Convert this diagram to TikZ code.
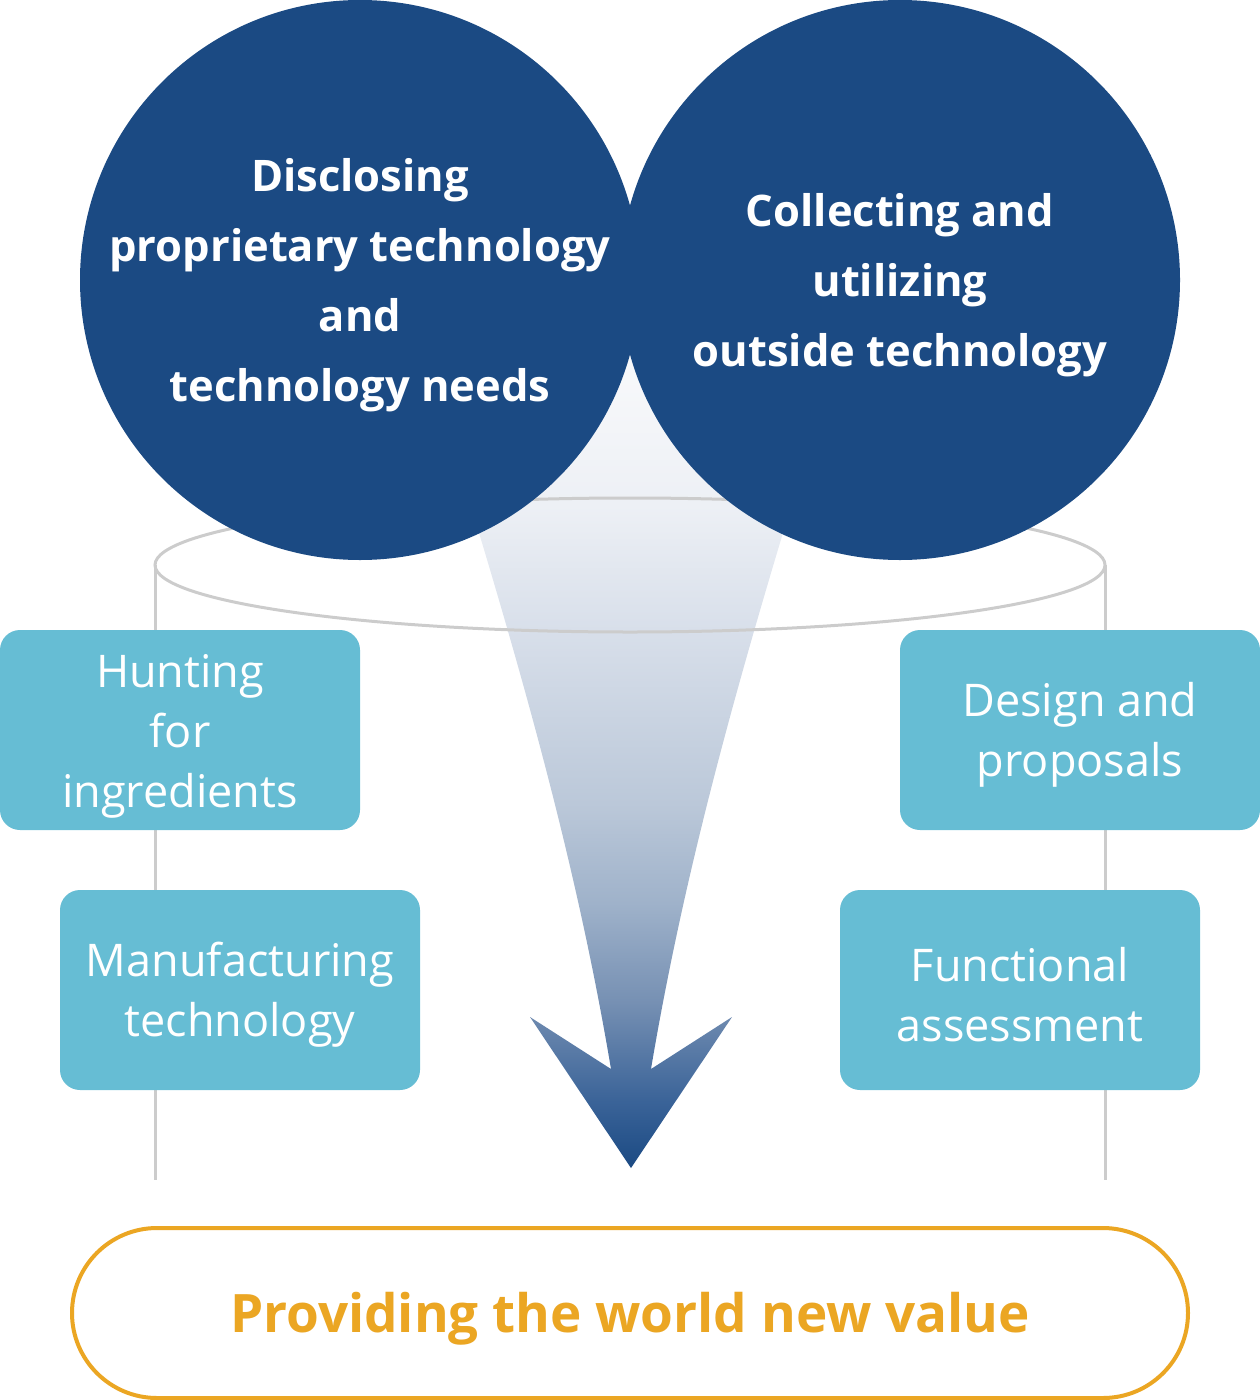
\documentclass[tikz,border=0pt]{standalone}
\usepackage{fontspec}
\setmainfont{Open Sans}
\usetikzlibrary{shapes.geometric}
\definecolor{navy}{HTML}{1B4A83}
\definecolor{teal}{HTML}{66BDD4}
\definecolor{gold}{HTML}{EBA623}
\definecolor{rule}{HTML}{CCCCCC}
\definecolor{sA}{HTML}{3A6398}
\definecolor{sB}{HTML}{7690B3}
\definecolor{sC}{HTML}{9FB2CA}
\definecolor{sD}{HTML}{BBC8D9}
\definecolor{sE}{HTML}{D8DFEA}
\definecolor{sF}{HTML}{EDF0F5}
\definecolor{sG}{HTML}{F8F9FB}
\pgfdeclareverticalshading{funnel}{100bp}{color(0bp)=(navy); color(25bp)=(navy); color(29bp)=(sA); color(35bp)=(sB); color(41bp)=(sC); color(47bp)=(sD); color(57.5bp)=(sE); color(65bp)=(sF); color(73.8bp)=(sG); color(75bp)=(white); color(100bp)=(white)}
\tikzset{
  bigcircle/.style={circle, fill=navy, minimum size=560pt, inner sep=0pt},
  circletext/.style={text=white, font=\fontsize{43.5}{70}\selectfont\bfseries, align=center, inner sep=0pt},
  tealbox/.style={rectangle, rounded corners=20pt, fill=teal, minimum width=360pt, minimum height=200pt, inner sep=0pt},
  boxtext/.style={text=white, font=\fontsize{45}{60}\selectfont, align=center, inner sep=0pt},
  guide/.style={draw=rule, line width=3pt},
  pill/.style={rectangle, rounded corners=85pt, draw=gold, line width=4pt, fill=white, minimum width=1116pt, minimum height=170pt},
  pilltext/.style={text=gold, font=\fontsize{53}{60}\selectfont\bfseries, inner sep=0pt}
}
\begin{document}
\begin{tikzpicture}[x=1pt,y=-1pt]
\useasboundingbox (0,0) rectangle (1260,1400);
% side guides
\coordinate (gl1) at (155,565);
\coordinate (gl2) at (155,1180);
\coordinate (gr1) at (1105,565);
\coordinate (gr2) at (1105,1180);
\draw[guide] (gl1) -- (gl2);
\draw[guide] (gr1) -- (gr2);
% funnel arrow
\shade[shading=funnel] (420,340) .. controls (497,590) and (569,819) .. (611,1069)
  -- (530,1017) -- (631,1168) -- (732,1017) -- (651,1069)
  .. controls (693,819) and (765,590) .. (842,340) -- cycle;
% ring
\draw[guide] (630,565) ellipse (475 and 67);
% circles
\node[bigcircle] (disc) at (360,280) {};
\node[circletext] (disct) at (360,285) {Disclosing\\proprietary technology\\and\\technology needs};
\node[bigcircle] (coll) at (900,280) {};
\node[circletext] (collt) at (900,285) {Collecting and\\utilizing\\outside technology};
% boxes
\node[tealbox] (hunt) at (180,730) {};
\node[boxtext] (huntt) at (180,736) {Hunting\\for\\ingredients};
\node[tealbox] (manu) at (240,990) {};
\node[boxtext] (manut) at (240,995) {Manufacturing\\technology};
\node[tealbox] (desi) at (1080,730) {};
\node[boxtext] (desit) at (1080,735) {Design and\\proposals};
\node[tealbox] (func) at (1020,990) {};
\node[boxtext] (funct) at (1020,995) {Functional\\assessment};
% result
\node[pill] (value) at (630,1313) {};
\node[pilltext] (valuet) at (630,1319) {Providing the world new value};
\end{tikzpicture}
\end{document}
